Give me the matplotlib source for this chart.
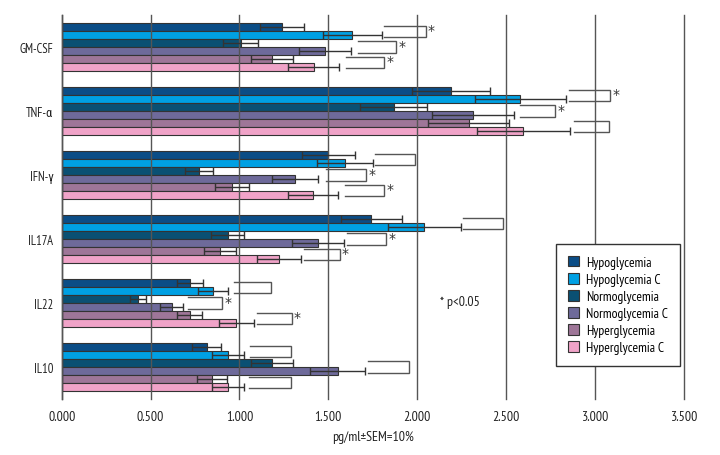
import matplotlib
matplotlib.use("Agg")
import matplotlib.pyplot as plt
from matplotlib.patches import Patch
import numpy as np

plt.rcParams['font.family'] = ['PT Sans Narrow', 'Roboto Condensed', 'DejaVu Sans']

cytokines = ["GM-CSF", "TNF-α", "IFN-γ", "IL17A", "IL22", "IL10"]
series = ["Hypoglycemia", "Hypoglycemia C", "Normoglycemia",
          "Normoglycemia C", "Hyperglycemia", "Hyperglycemia C"]
colors = ["#0b4d86", "#00a0e3", "#0a5073", "#6e6a9a", "#9e7698", "#f0a3c8"]

hypo = [1.238, 2.189, 1.500, 1.741, 0.724, 0.816]
hypo_c = [1.635, 2.579, 1.594, 2.041, 0.853, 0.938]
normo = [1.007, 1.868, 0.771, 0.934, 0.431, 1.182]
normo_c = [1.482, 2.313, 1.311, 1.444, 0.619, 1.553]
hyper = [1.182, 2.290, 0.957, 0.893, 0.720, 0.844]
hyper_c = [1.418, 2.598, 1.414, 1.223, 0.983, 0.938]

hypo_err = [0.124, 0.219, 0.150, 0.172, 0.073, 0.080]
hypo_c_err = [0.166, 0.256, 0.160, 0.204, 0.085, 0.090]
normo_err = [0.100, 0.187, 0.078, 0.092, 0.044, 0.118]
normo_c_err = [0.147, 0.230, 0.130, 0.146, 0.064, 0.155]
hyper_err = [0.118, 0.227, 0.096, 0.090, 0.072, 0.084]
hyper_c_err = [0.143, 0.260, 0.142, 0.124, 0.100, 0.090]

# significance brackets per cytokine: (pair index, x left, x right, star)
brackets = [
    [(0, 1.814, 2.048, True), (1, 1.667, 1.881, True), (2, 1.600, 1.814, True)],
    [(0, 2.855, 3.085, True), (1, 2.579, 2.776, True), (2, 2.883, 3.080, False)],
    [(0, 1.763, 1.988, False), (1, 1.487, 1.712, True), (2, 1.594, 1.814, True)],
    [(0, 2.257, 2.482, False), (1, 1.606, 1.825, True), (2, 1.364, 1.564, True)],
    [(0, 0.968, 1.178, False), (1, 0.712, 0.904, True), (2, 1.097, 1.294, True)],
    [(0, 1.060, 1.290, False), (1, 1.725, 1.956, False), (2, 1.056, 1.289, False)],
]

xticks = [0.0, 0.5, 1.0, 1.5, 2.0, 2.5, 3.0, 3.5]

values = [hypo, hypo_c, normo, normo_c, hyper, hyper_c]
errors = [hypo_err, hypo_c_err, normo_err, normo_c_err, hyper_err, hyper_c_err]

fig = plt.figure(figsize=(7.2, 4.56), dpi=100)
ax = fig.add_axes([61.7 / 720, 1 - 400 / 456, 622 / 720, 384 / 456])

h = 0.1224
ypos = np.arange(len(cytokines))
for k, (vals, errs, col) in enumerate(zip(values, errors, colors)):
    y = ypos + (k - 2.5) * h
    ax.barh(y, vals, height=h, color=col, edgecolor="#333333", linewidth=0.8, zorder=1)
    ax.errorbar(vals, y, xerr=errs, fmt="none", ecolor="#333333",
                elinewidth=1.0, capsize=2.6, capthick=1.0, zorder=3)

dy = 0.086
for i, blist in enumerate(brackets):
    for (p, xl, xr, star) in blist:
        yc = i + (2 * p + 0.5 - 2.5) * h
        y0, y1 = yc - dy, yc + dy
        ax.plot([xl, xr, xr, xl], [y0, y0, y1, y1], color="#555555", lw=1.0,
                zorder=3, solid_joinstyle="miter")
        if star:
            ax.text(xr + 0.012, yc + 0.04, "*", ha="left", va="baseline",
                    fontsize=10, color="#333333", family="DejaVu Sans")

ax.text(2.129, 3.97, "* p<0.05", ha="left", va="center", fontsize=10,
        color="#222222")

ax.set_xlim(0, 3.5)
ax.set_ylim(5.5, -0.5)
ax.set_xticks(xticks)
ax.set_xticklabels([f"{t:.3f}" for t in xticks])
ax.set_yticks(ypos)
ax.set_yticklabels(cytokines)
ax.tick_params(axis="both", length=0, colors="#222222")
ax.tick_params(axis="x", pad=8, labelsize=10)
ax.tick_params(axis="y", pad=6, labelsize=9)
for s in ["top", "right", "bottom"]:
    ax.spines[s].set_visible(False)
ax.spines["left"].set_color("#333333")
ax.spines["left"].set_linewidth(1.0)
ax.set_axisbelow(False)
ax.xaxis.grid(True, color="#555555", linewidth=1.0)
ax.yaxis.grid(False)
for gl in ax.get_xgridlines():
    gl.set_zorder(2)
    gl.set_clip_on(False)
ax.set_xlabel("pg/ml±SEM=10%", fontsize=10, labelpad=5, color="#222222")

handles = [Patch(facecolor=c, edgecolor="#333333", linewidth=0.8) for c in colors]
leg = ax.legend(handles, series, loc="upper left", bbox_to_anchor=(0.795, 0.404),
                frameon=True, fancybox=False, framealpha=1, edgecolor="#333333",
                fontsize=9.7, handlelength=0.8, handleheight=0.8, labelspacing=0.3,
                borderpad=0.9, handletextpad=0.5, borderaxespad=0)
leg.get_frame().set_linewidth(1.0)

fig.savefig("out.png", dpi=100)
